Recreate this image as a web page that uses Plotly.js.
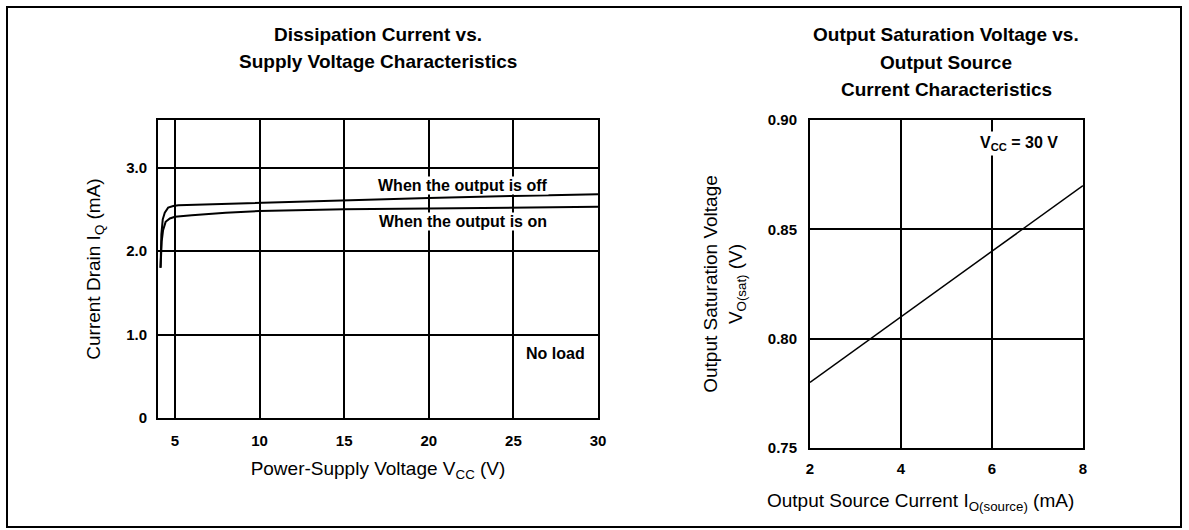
<!DOCTYPE html>
<html>
<head>
<meta charset="utf-8">
<script src="https://cdn.plot.ly/plotly-3.0.1.min.js"></script>
<style>
  html, body { margin: 0; padding: 0; background: #fff; }
  #chart { width: 1189px; height: 530px; }
</style>
</head>
<body>
<div id="chart"></div>
<script>
// ---- Left chart data: Dissipation current vs supply voltage ----
const vccOff = [4.15, 4.2, 4.28, 4.4, 4.6, 4.9, 5.2, 6, 10, 15, 20, 25, 30];
const iqOff  = [1.8, 2.2, 2.38, 2.46, 2.52, 2.54, 2.55, 2.555, 2.575, 2.61, 2.635, 2.66, 2.68];
const vccOn  = [4.15, 4.18, 4.22, 4.3, 4.45, 4.7, 5, 6, 8, 10, 15, 20, 25, 30];
const iqOn   = [1.8, 2.0, 2.12, 2.25, 2.35, 2.39, 2.41, 2.43, 2.46, 2.48, 2.50, 2.51, 2.52, 2.53];
const leftXTicks = [5, 10, 15, 20, 25, 30];
const leftYTicks = [0, 1, 2, 3];
const leftYTickText = ['0', '1.0', '2.0', '3.0'];

// ---- Right chart data: Output saturation voltage vs output source current ----
const ioSource = [2, 4, 6, 8];
const voSat    = [0.78, 0.81, 0.84, 0.87];
const rightXTicks = [2, 4, 6, 8];
const rightYTicks = [0.75, 0.80, 0.85, 0.90];
const rightYTickText = ['0.75', '0.80', '0.85', '0.90'];

const W = 1189, H = 530;
const px = v => v / W;
const py = v => 1 - v / H;

const tickFont = { family: 'Liberation Sans, Arial, sans-serif', size: 15, color: '#000', weight: 'bold' };
const titleFont = { family: 'Liberation Sans, Arial, sans-serif', size: 19, color: '#000' };
const annFont = { family: 'Liberation Sans, Arial, sans-serif', size: 16, color: '#000', weight: 'bold' };
const headFont = { family: 'Liberation Sans, Arial, sans-serif', size: 19, color: '#000', weight: 'bold' };

const axisCommon = {
  showline: true, mirror: true, linecolor: '#000', linewidth: 2,
  showgrid: true, gridcolor: '#000', gridwidth: 2,
  zeroline: false, ticks: '', fixedrange: true,
  tickfont: tickFont
};

const traces = [
  { x: vccOff, y: iqOff, xaxis: 'x', yaxis: 'y', mode: 'lines', type: 'scatter',
    line: { color: '#000', width: 2 }, name: 'When the output is off', showlegend: false },
  { x: vccOn, y: iqOn, xaxis: 'x', yaxis: 'y', mode: 'lines', type: 'scatter',
    line: { color: '#000', width: 2 }, name: 'When the output is on', showlegend: false },
  { x: ioSource, y: voSat, xaxis: 'x2', yaxis: 'y2', mode: 'lines', type: 'scatter',
    line: { color: '#000', width: 1.5 }, name: 'VCC = 30 V', showlegend: false }
];

const layout = {
  width: W, height: H,
  margin: { l: 0, r: 0, t: 0, b: 0 },
  paper_bgcolor: '#fff', plot_bgcolor: '#fff',
  showlegend: false,
  xaxis: Object.assign({}, axisCommon, {
    domain: [px(158), px(598)], range: [4, 30],
    tickvals: leftXTicks, ticklabelstandoff: 8,
    title: { text: 'Power-Supply Voltage V<sub>CC</sub> (V)', font: titleFont, standoff: 14 },
    anchor: 'y'
  }),
  yaxis: Object.assign({}, axisCommon, {
    domain: [py(418), py(120)], range: [0, 3.57],
    tickvals: leftYTicks, ticktext: leftYTickText, ticklabelstandoff: 6,
    title: { text: 'Current Drain I<sub>Q</sub> (mA)', font: titleFont, standoff: 20 },
    anchor: 'x'
  }),
  xaxis2: Object.assign({}, axisCommon, {
    domain: [px(810), px(1083)], range: [2, 8],
    tickvals: rightXTicks, ticklabelstandoff: 6,
    anchor: 'y2'
  }),
  yaxis2: Object.assign({}, axisCommon, {
    domain: [py(448), py(120)], range: [0.75, 0.90],
    tickvals: rightYTicks, ticktext: rightYTickText, ticklabelstandoff: 8,
    title: { text: 'Output Saturation Voltage<br>V<sub>O(sat)</sub> (V)', font: titleFont, standoff: 20 },
    anchor: 'x2'
  }),
  annotations: [
    { xref: 'paper', yref: 'paper', x: px(378), y: py(35), text: 'Dissipation Current vs.',
      showarrow: false, font: headFont, xanchor: 'center', yanchor: 'middle' },
    { xref: 'paper', yref: 'paper', x: px(378), y: py(62), text: 'Supply Voltage Characteristics',
      showarrow: false, font: headFont, xanchor: 'center', yanchor: 'middle' },
    { xref: 'paper', yref: 'paper', x: px(946), y: py(35), text: 'Output Saturation Voltage vs.',
      showarrow: false, font: headFont, xanchor: 'center', yanchor: 'middle' },
    { xref: 'paper', yref: 'paper', x: px(946), y: py(63), text: 'Output Source',
      showarrow: false, font: headFont, xanchor: 'center', yanchor: 'middle' },
    { xref: 'paper', yref: 'paper', x: px(946), y: py(90), text: 'Current Characteristics',
      showarrow: false, font: headFont, xanchor: 'center', yanchor: 'middle' },
    { xref: 'paper', yref: 'paper', x: px(463), y: py(186), text: 'When the output is off',
      showarrow: false, font: annFont, xanchor: 'center', yanchor: 'middle', bgcolor: '#fff', borderpad: 0 },
    { xref: 'paper', yref: 'paper', x: px(463), y: py(221), text: 'When the output is on',
      showarrow: false, font: annFont, xanchor: 'center', yanchor: 'middle', bgcolor: '#fff', borderpad: 0 },
    { xref: 'paper', yref: 'paper', x: px(555), y: py(353), text: 'No load',
      showarrow: false, font: annFont, xanchor: 'center', yanchor: 'middle', bgcolor: '#fff', borderpad: 0 },
    { xref: 'paper', yref: 'paper', x: px(1019), y: py(144), text: 'V<sub>CC</sub> = 30 V',
      showarrow: false, font: annFont, xanchor: 'center', yanchor: 'middle', bgcolor: '#fff', borderpad: 2 },
    { xref: 'paper', yref: 'paper', x: px(920), y: py(502), text: 'Output Source Current I<sub>O(source)</sub> (mA)',
      showarrow: false, font: titleFont, xanchor: 'center', yanchor: 'middle' }
  ],
  shapes: [
    { type: 'rect', xref: 'paper', yref: 'paper', x0: px(7), x1: px(1181), y0: py(527), y1: py(7),
      line: { color: '#000', width: 2 }, fillcolor: 'rgba(0,0,0,0)', layer: 'below' }
  ]
};

Plotly.newPlot('chart', traces, layout, { displayModeBar: false, staticPlot: true });
</script>
</body>
</html>
